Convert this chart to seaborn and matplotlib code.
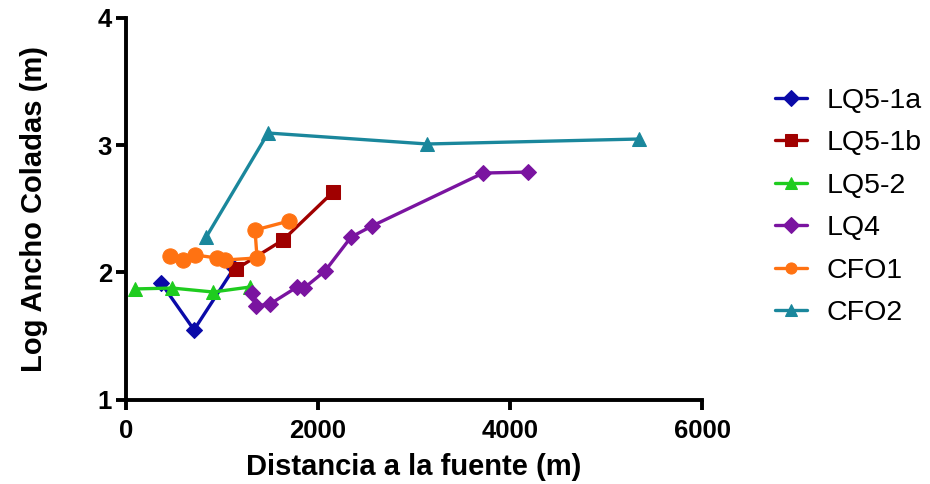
import matplotlib
matplotlib.use("Agg")
import matplotlib.pyplot as plt
import seaborn as sns
import pandas as pd

# ---- data ----
lq51a_x = [367, 710, 1127]
lq51a_y = [1.918, 1.55, 2.035]

lq51b_x = [1148, 1637, 2157]
lq51b_y = [2.027, 2.255, 2.631]

lq52_x = [97, 482, 908, 1293]
lq52_y = [1.871, 1.878, 1.847, 1.886]

lq4_x = [1314, 1358, 1502, 1783, 1856, 2074, 2345, 2564, 3720, 4188]
lq4_y = [1.838, 1.737, 1.753, 1.886, 1.878, 2.012, 2.278, 2.365, 2.78, 2.788]

cfo1_x = [460, 596, 721, 950, 1033, 1366, 1345, 1700]
cfo1_y = [2.129, 2.098, 2.137, 2.114, 2.098, 2.114, 2.333, 2.404]

cfo2_x = [837, 1481, 3137, 5344]
cfo2_y = [2.278, 3.094, 3.008, 3.047]

series_names = ["LQ5-1a", "LQ5-1b", "LQ5-2", "LQ4", "CFO1", "CFO2"]
x_ticks = [0, 2000, 4000, 6000]
y_ticks = [1, 2, 3, 4]
x_label = "Distancia a la fuente (m)"
y_label = "Log Ancho Coladas (m)"

series = [
    (lq51a_x, lq51a_y, "#0a0aa8", "D", 8),
    (lq51b_x, lq51b_y, "#a00000", "s", 10),
    (lq52_x, lq52_y, "#1fcc1f", "^", 10),
    (lq4_x, lq4_y, "#7a14a0", "D", 8),
    (cfo1_x, cfo1_y, "#ff7212", "o", 11),
    (cfo2_x, cfo2_y, "#1a879c", "^", 10),
]

sns.set_theme(style="white")
plt.rcParams["font.family"] = ["Liberation Sans", "DejaVu Sans"]
plt.rcParams["text.color"] = "black"
plt.rcParams["axes.labelcolor"] = "black"

fig = plt.figure(figsize=(9.3, 4.84), dpi=100)
ax = fig.add_axes([0.1353, 0.1736, 0.755 - 0.1353, 0.9638 - 0.1736])

for name, (xs, ys, col, mk, ms) in zip(series_names, series):
    df = pd.DataFrame({"x": xs, "y": ys})
    sns.lineplot(data=df, x="x", y="y", ax=ax, sort=False, color=col,
                 marker=mk, markersize=ms, markeredgecolor=col,
                 linewidth=2.4, label=name)

ax.set_xlim(0, 6000)
ax.set_ylim(1, 4)
ax.set_xticks(x_ticks)
ax.set_yticks(y_ticks)
ax.set_xticklabels([str(t) for t in x_ticks], fontsize=18.5, fontweight="bold")
ax.set_yticklabels([str(t) for t in y_ticks], fontsize=18.5, fontweight="bold")
ax.set_xlabel(x_label, fontsize=21, fontweight="bold", labelpad=7, color="black")
ax.set_ylabel(y_label, fontsize=21, fontweight="bold", labelpad=36, color="black")

for s in ["top", "right"]:
    ax.spines[s].set_visible(False)
for s in ["left", "bottom"]:
    ax.spines[s].set_color("black")
    ax.spines[s].set_linewidth(2.8)
ax.tick_params(axis="both", which="major", direction="out", length=7,
               width=2.8, color="black", labelcolor="black", pad=3,
               left=True, bottom=True)
ax.tick_params(axis="x", pad=7)
ax.grid(False)

leg = ax.legend(loc="center left", bbox_to_anchor=(0.833, 0.572),
                bbox_transform=fig.transFigure, frameon=False,
                fontsize=20.5, handlelength=1.12, handletextpad=0.7,
                labelspacing=0.58, borderpad=0, borderaxespad=0)
for t in leg.get_texts():
    t.set_color("black")
for h in leg.legend_handles:
    h.set_markersize(8)

fig.savefig("out.png", dpi=100)
